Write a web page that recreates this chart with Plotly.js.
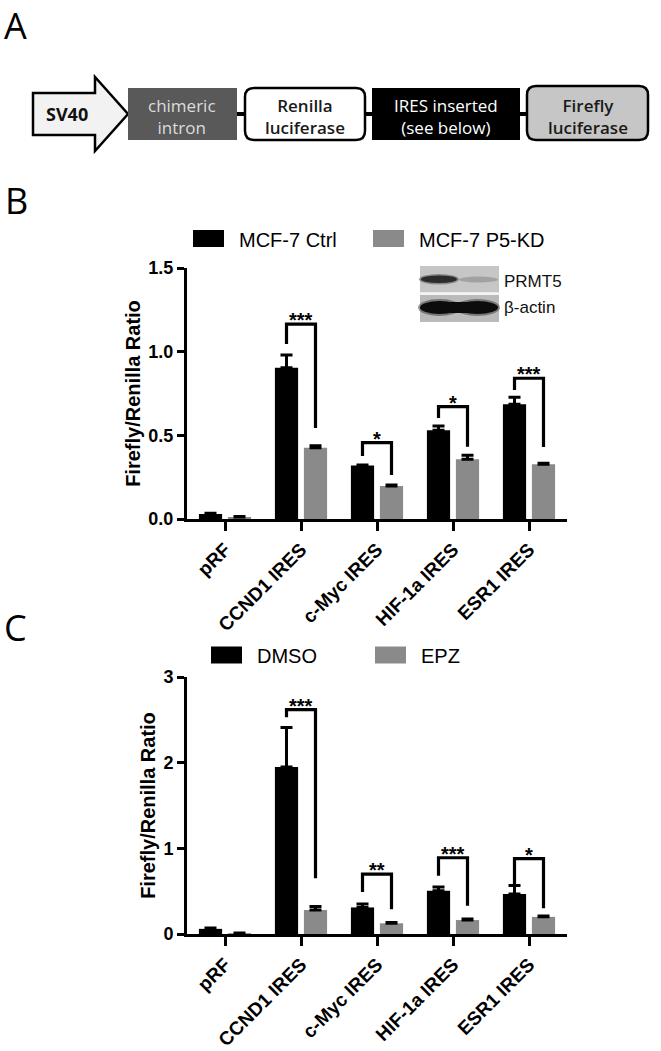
<!DOCTYPE html>
<html>
<head>
<meta charset="utf-8">
<script src="https://cdn.plot.ly/plotly-3.0.1.min.js"></script>
<style>
  html, body { margin: 0; padding: 0; background: #fff; }
  #fig { width: 661px; height: 1051px; }
</style>
</head>
<body>
<div id="fig"></div>
<script>
/* -------------------- DATA -------------------- */

const categories = ['pRF', 'CCND1 IRES', 'c-Myc IRES', 'HIF-1a IRES', 'ESR1 IRES'];

// panel B : MCF-7 Ctrl vs MCF-7 P5-KD
const ctrlMean = [0.03, 0.904, 0.319, 0.530, 0.686];
const ctrlErr  = [0.005, 0.076, 0.004, 0.026, 0.041];
const kdMean   = [0.012, 0.426, 0.197, 0.357, 0.327];
const kdErr    = [0.003, 0.012, 0.006, 0.024, 0.006];
const sigTopB   = [null, 1.164, 0.456, 0.671, 0.841];
const sigLeftB  = [null, 1.046, 0.377, 0.604, 0.771];
const sigRightB = [null, 0.544, 0.263, 0.432, 0.430];
const starsB    = ['', '***', '*', '*', '***'];

// panel C : DMSO vs EPZ
const dmsoMean = [0.06, 1.95, 0.31, 0.505, 0.467];
const dmsoErr  = [0.01, 0.46, 0.04, 0.045, 0.10];
const epzMean  = [0.01, 0.28, 0.125, 0.163, 0.20];
const epzErr   = [0.003, 0.04, 0.01, 0.012, 0.01];
const sigTopC   = [null, 2.62, 0.70, 0.89, 0.88];
const sigLeftC  = [null, 2.53, 0.49, 0.68, 0.57];
const sigRightC = [null, 0.65, 0.29, 0.33, 0.30];
const starsC    = ['', '***', '**', '***', '*'];

/* -------------------- HELPERS -------------------- */

const W = 661, H = 1051;
const px = x => x / W;
const py = y => 1 - y / H;
const FONT = 'Liberation Sans, Arial, sans-serif';
const DIAG_FONT = 'Open Sans, Noto Sans, sans-serif';

const BARGAP = 0.237;
const OFF = (1 - BARGAP) / 4;   // centre of each bar in a group, category units

function pathPx(pts, close) {
  let s = pts.map((p, i) => (i ? 'L' : 'M') + px(p[0]) + ',' + py(p[1])).join(' ');
  return close ? s + ' Z' : s;
}

function roundRect(x0, y0, x1, y1, r) {
  const P = (x, y) => px(x) + ',' + py(y);
  return 'M' + P(x0 + r, y0) + ' L' + P(x1 - r, y0) + ' Q' + P(x1, y0) + ' ' + P(x1, y0 + r) +
    ' L' + P(x1, y1 - r) + ' Q' + P(x1, y1) + ' ' + P(x1 - r, y1) +
    ' L' + P(x0 + r, y1) + ' Q' + P(x0, y1) + ' ' + P(x0, y1 - r) +
    ' L' + P(x0, y0 + r) + ' Q' + P(x0, y0) + ' ' + P(x0 + r, y0) + ' Z';
}

function rectPx(x0, y0, x1, y1, fill, line) {
  return { type: 'rect', xref: 'paper', yref: 'paper', x0: px(x0), x1: px(x1), y0: py(y1), y1: py(y0),
    fillcolor: fill, line: line || { width: 0 } };
}

function ellPx(x0, y0, x1, y1, fill, op) {
  return { type: 'circle', xref: 'paper', yref: 'paper', x0: px(x0), x1: px(x1), y0: py(y1), y1: py(y0),
    fillcolor: fill, opacity: op == null ? 1 : op, line: { width: 0 } };
}

function textPx(x, y, text, opts) {
  return Object.assign({ xref: 'paper', yref: 'paper', x: px(x), y: py(y), text: text, showarrow: false,
    xanchor: 'center', yanchor: 'middle', font: { family: FONT, size: 20, color: '#000' } }, opts || {});
}

const zeros = a => a.map(() => 0);

function barTrace(y, err, name, color, xa, ya) {
  return {
    type: 'bar', x: categories, y: y, name: name, xaxis: xa, yaxis: ya,
    marker: { color: color, line: { width: 0 } },
    error_y: { type: 'data', array: err, arrayminus: zeros(err), symmetric: false,
      color: '#000', thickness: 3, width: 6 },
    hoverinfo: 'x+y'
  };
}

function brackets(top, left, right, stars, xa, ya) {
  const shapes = [], notes = [];
  top.forEach((t, i) => {
    if (t == null) return;
    shapes.push({
      type: 'path', xref: xa, yref: ya,
      path: 'M' + (i - OFF) + ',' + left[i] + ' L' + (i - OFF) + ',' + t +
            ' L' + (i + OFF) + ',' + t + ' L' + (i + OFF) + ',' + right[i],
      line: { color: '#000', width: 3.2 }
    });
    notes.push({ xref: xa, yref: ya, x: i, y: t, text: stars[i], showarrow: false,
      xanchor: 'center', yanchor: 'middle', yshift: 4,
      font: { family: FONT, size: 20, weight: 'bold', color: '#000' } });
  });
  return { shapes, notes };
}

/* -------------------- TRACES -------------------- */

const data = [
  barTrace(ctrlMean, ctrlErr, 'MCF-7 Ctrl', '#000', 'x', 'y'),
  barTrace(kdMean, kdErr, 'MCF-7 P5-KD', '#8a8a8a', 'x', 'y'),
  barTrace(dmsoMean, dmsoErr, 'DMSO', '#000', 'x2', 'y2'),
  barTrace(epzMean, epzErr, 'EPZ', '#8a8a8a', 'x2', 'y2')
];

/* -------------------- AXES -------------------- */

function xAxis(anchor) {
  return {
    anchor: anchor, domain: [px(187), px(567)], type: 'category', range: [-0.5, 4.5],
    showline: true, linewidth: 3, linecolor: '#000', showgrid: false, zeroline: false,
    ticks: 'outside', ticklen: 9, tickwidth: 3, tickcolor: '#000', tickangle: -45,
    tickfont: { family: FONT, size: 19, weight: 'bold', color: '#000' }, fixedrange: true
  };
}

function yAxis(anchor, top, bottom, range, dtick, fmt) {
  return {
    anchor: anchor, domain: [py(bottom), py(top)], range: range, dtick: dtick, tick0: 0, tickformat: fmt,
    showline: true, linewidth: 3, linecolor: '#000', showgrid: false, zeroline: false,
    ticks: 'outside', ticklen: 7, tickwidth: 3, tickcolor: '#000',
    tickfont: { family: FONT, size: 18, weight: 'bold', color: '#000' },
    title: { text: 'Firefly/Renilla Ratio', standoff: 3,
      font: { family: FONT, size: 20, weight: 'bold', color: '#000' } },
    fixedrange: true
  };
}

/* -------------------- PANEL A (construct diagram) -------------------- */

const shapes = [];
const notes = [];

const BOX_T = 88, BOX_B = 140, MID = 114;
const blk = { color: '#000', width: 2.5 };

[[237, 245], [365, 372], [520, 527]].forEach(([a, b]) => {
  shapes.push({ type: 'line', xref: 'paper', yref: 'paper', x0: px(a - 1), x1: px(b + 1), y0: py(MID), y1: py(MID),
    line: { color: '#000', width: 4 } });
});

shapes.push({ type: 'path', xref: 'paper', yref: 'paper', fillcolor: '#f2f2f2', line: blk,
  path: pathPx([[33, 93], [95, 93], [95, 77], [128, 114], [95, 151], [95, 135], [33, 135]], true) });
shapes.push(rectPx(128, BOX_T, 237, BOX_B, '#595959', { width: 0 }));
shapes.push({ type: 'path', xref: 'paper', yref: 'paper', fillcolor: '#ffffff', line: blk,
  path: roundRect(245, BOX_T, 365, BOX_B, 9) });
shapes.push(rectPx(372, BOX_T, 520, BOX_B, '#000000', { width: 0 }));
shapes.push({ type: 'path', xref: 'paper', yref: 'paper', fillcolor: '#c6c6c6', line: blk,
  path: roundRect(527, BOX_T - 2, 648, BOX_B, 9) });

const dfont = (c, w) => ({ family: DIAG_FONT, size: 17, color: c, weight: w });
notes.push(textPx(67, MID, 'SV40', { font: { family: DIAG_FONT, size: 18, color: '#111', weight: 'bold' } }));
notes.push(textPx(182.5, MID + 2, 'chimeric<br>intron', { font: dfont('#dcdcdc', 'normal') }));
notes.push(textPx(305, MID + 2, 'Renilla<br>luciferase', { font: dfont('#1a1a1a', 600) }));
notes.push(textPx(446, MID + 2, 'IRES inserted<br>(see below)', { font: dfont('#ffffff', 'normal') }));
notes.push(textPx(587.5, MID + 2, 'Firefly<br>luciferase', { font: dfont('#1a1a1a', 600) }));

/* -------------------- PANEL LETTERS -------------------- */

const letter = { family: DIAG_FONT, size: 36, color: '#000' };
notes.push(textPx(15.5, 26, 'A', { font: letter }));
notes.push(textPx(16.5, 200, 'B', { font: letter }));
notes.push(textPx(15.5, 627, 'C', { font: letter }));

/* -------------------- LEGENDS -------------------- */

function legendItem(x, y, color, label) {
  shapes.push(rectPx(x, y - 8.5, x + 31, y + 8.5, color, { width: 0 }));
  notes.push(textPx(x + 44, y + 1, label, { xanchor: 'left' }));
}
legendItem(193, 238.5, '#000', 'MCF-7 Ctrl');
legendItem(373, 238.5, '#8a8a8a', 'MCF-7 P5-KD');
legendItem(211, 655, '#000', 'DMSO');
legendItem(375, 655, '#8a8a8a', 'EPZ');

/* -------------------- WESTERN BLOT INSET -------------------- */

shapes.push(rectPx(420, 266, 499, 292.5, '#c6c6c6'));
shapes.push(rectPx(420, 292.5, 499, 295, '#f4f4f4'));
shapes.push(rectPx(420, 295, 499, 322, '#bababa'));
shapes.push(ellPx(419, 274, 459, 284.5, '#555', 0.55));
shapes.push(ellPx(421, 275.5, 457, 283, '#222', 0.9));
shapes.push(ellPx(459, 276.5, 498, 282.5, '#9c9c9c', 0.9));
shapes.push(ellPx(418, 299, 461, 316, '#333', 0.5));
shapes.push(ellPx(455, 299, 500, 316, '#333', 0.5));
shapes.push(ellPx(420, 301, 459, 314, '#0c0c0c'));
shapes.push(ellPx(457, 301, 498, 314, '#0c0c0c'));
shapes.push(rectPx(432, 302, 486, 313, '#0c0c0c'));
notes.push(textPx(502, 281, 'PRMT5', { xanchor: 'left', font: { family: FONT, size: 17, color: '#111' } }));
notes.push(textPx(502, 308, 'β-actin', { xanchor: 'left', font: { family: FONT, size: 17, color: '#111' } }));

/* -------------------- SIGNIFICANCE -------------------- */

const bB = brackets(sigTopB, sigLeftB, sigRightB, starsB, 'x', 'y');
const bC = brackets(sigTopC, sigLeftC, sigRightC, starsC, 'x2', 'y2');

/* -------------------- LAYOUT -------------------- */

const layout = {
  width: W, height: H,
  margin: { l: 0, r: 0, t: 0, b: 0, pad: 0 },
  paper_bgcolor: '#fff', plot_bgcolor: 'rgba(0,0,0,0)',
  showlegend: false,
  barmode: 'group', bargap: BARGAP, bargroupgap: 0.2,
  font: { family: FONT, color: '#000' },
  xaxis: xAxis('y'),
  yaxis: yAxis('x', 268, 519, [0, 1.5], 0.5, '.1f'),
  xaxis2: xAxis('y2'),
  yaxis2: yAxis('x2', 677, 934, [0, 3], 1, 'd'),
  shapes: shapes.concat(bB.shapes, bC.shapes),
  annotations: notes.concat(bB.notes, bC.notes)
};

Plotly.newPlot('fig', data, layout, { displayModeBar: false, staticPlot: true });
</script>
</body>
</html>
